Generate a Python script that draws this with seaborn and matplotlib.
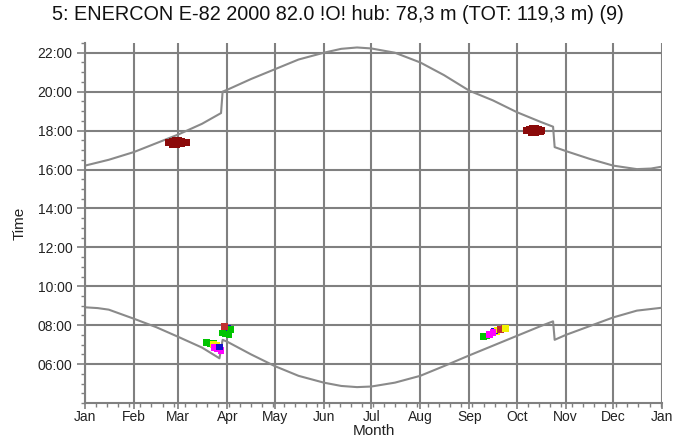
import numpy as np
import pandas as pd
import matplotlib
matplotlib.use("Agg")
import matplotlib.pyplot as plt
from matplotlib.ticker import FixedLocator, MultipleLocator, FuncFormatter
import seaborn as sns

# Month boundaries (day of year) and their labels
month_days = [0, 31, 59, 90, 120, 151, 181, 212, 243, 273, 304, 334, 365]
month_labels = ["Jan", "Feb", "Mar", "Apr", "May", "Jun", "Jul", "Aug",
                "Sep", "Oct", "Nov", "Dec", "Jan"]

# Sunset (upper curve), local clock time in hours, with DST steps
sunset_day = [0, 15, 31, 45, 59, 74, 86, 87, 90, 105, 120, 135, 151, 162, 172,
              181, 196, 212, 227, 243, 258, 273, 288, 296, 297, 304, 319, 334,
              349, 358, 365]
sunset_time = [16.2, 16.5, 16.9, 17.35, 17.8, 18.35, 18.9, 20.0, 20.1, 20.65,
               21.15, 21.65, 22.0, 22.2, 22.27, 22.22, 22.0, 21.5, 20.85, 20.05,
               19.55, 18.95, 18.45, 18.2, 17.15, 16.95, 16.55, 16.2, 16.02,
               16.05, 16.15]

# Sunrise (lower curve)
sunrise_day = [0, 8, 15, 31, 45, 59, 74, 85, 87, 90, 105, 120, 135, 151, 162, 172,
               181, 196, 212, 227, 243, 258, 273, 288, 296, 297, 304, 319, 334,
               349, 365]
sunrise_time = [8.92, 8.88, 8.8, 8.33, 7.9, 7.4, 6.85, 6.3, 7.25, 7.15, 6.5, 5.9,
                5.4, 5.05, 4.88, 4.82, 4.85, 5.05, 5.4, 5.9, 6.45, 6.95, 7.45,
                7.95, 8.2, 7.25, 7.5, 7.95, 8.4, 8.75, 8.9]

# Shadow flicker occurrences per receptor
flicker_day = [53, 55, 57, 59, 61, 63, 55, 58, 61, 64,
               279, 281, 283, 285, 287, 289, 282, 285, 288,
               77, 79, 81, 81, 83, 82, 84, 86, 85,
               88, 90, 92, 87, 89, 91, 88,
               252, 254, 256, 256, 258, 260, 259, 261, 263, 258, 263, 265, 266]
flicker_time = [17.4, 17.45, 17.5, 17.5, 17.45, 17.4, 17.3, 17.3, 17.32, 17.38,
                18.0, 18.05, 18.1, 18.1, 18.05, 18.0, 17.92, 17.92, 17.95,
                7.1, 7.08, 7.05, 7.0, 6.98, 6.85, 6.8, 6.72, 6.88,
                7.85, 7.85, 7.8, 7.6, 7.55, 7.5, 7.95,
                7.4, 7.45, 7.5, 7.55, 7.6, 7.65, 7.7, 7.75, 7.8, 7.62, 7.78, 7.85, 7.82]
flicker_receptor = (["A"] * 10 + ["A"] * 9 +
                    ["B", "B", "B", "E", "E", "C", "C", "C", "D"] +
                    ["D", "D", "B", "B", "B", "B", "F"] +
                    ["B", "B", "C", "C", "C", "E", "D", "E", "E", "C", "F", "F", "E"])

receptor_colors = {"A": "#8b0a0a", "B": "#00c400", "C": "#ff00ff",
                   "D": "#1010c8", "E": "#f2f200", "F": "#c03030"}

sun = pd.concat([
    pd.DataFrame({"day": sunset_day, "time": sunset_time, "curve": "sunset"}),
    pd.DataFrame({"day": sunrise_day, "time": sunrise_time, "curve": "sunrise"}),
])
flicker = pd.DataFrame({"day": flicker_day, "time": flicker_time,
                        "receptor": flicker_receptor})

sns.set_style("white")
plt.rcParams["font.family"] = ["Liberation Sans", "DejaVu Sans"]

fig = plt.figure(figsize=(6.75, 4.41), dpi=100)
ax = fig.add_axes([0.126, 0.086, 0.855, 0.8165])

grid_col = "#808080"
for d in month_days:
    ax.axvline(d, color=grid_col, lw=1.5, zorder=1)
for h in range(6, 23, 2):
    ax.axhline(h, color=grid_col, lw=1.5, zorder=1)

sns.lineplot(data=sun, x="day", y="time", units="curve", estimator=None,
             sort=False, color="#8a8a8a", lw=1.5, ax=ax, zorder=2)

sns.scatterplot(data=flicker, x="day", y="time", hue="receptor",
                palette=receptor_colors, marker="s", s=24, linewidth=0,
                legend=False, ax=ax, zorder=3)

ax.set_xlim(0, 365)
ax.set_ylim(4.0, 22.5)

ax.xaxis.set_major_locator(FixedLocator(month_days))
ax.set_xticklabels(month_labels)
ax.xaxis.set_minor_locator(MultipleLocator(7))
ax.yaxis.set_major_locator(FixedLocator(list(range(6, 23, 2))))
ax.yaxis.set_major_formatter(FuncFormatter(lambda v, p: f"{int(v):02d}:00"))
ax.yaxis.set_minor_locator(MultipleLocator(0.5))

ax.tick_params(axis="y", which="major", direction="out", length=6,
               width=1.2, color=grid_col, labelsize=10, labelcolor="#222222", pad=3)
ax.tick_params(axis="x", which="major", direction="out", length=4,
               width=1.2, color=grid_col, labelsize=10, labelcolor="#222222", pad=1)
ax.tick_params(axis="both", which="minor", direction="out", length=3,
               width=1.0, color=grid_col)
ax.tick_params(axis="x", which="both", bottom=True)
ax.tick_params(axis="y", which="both", left=True)

for side in ["top", "right"]:
    ax.spines[side].set_visible(False)
for side in ["left", "bottom"]:
    ax.spines[side].set_color(grid_col)
    ax.spines[side].set_linewidth(1.5)

ax.set_xlabel("Month", fontsize=11, color="#222222", labelpad=0)
ax.set_ylabel("Time", fontsize=11, color="#222222", labelpad=8)

fig.suptitle("5: ENERCON E-82 2000 82.0 !O! hub: 78,3 m (TOT: 119,3 m) (9)",
             fontsize=14.3, color="#111111", y=0.988, va="top")

fig.savefig("out.png", dpi=100)
